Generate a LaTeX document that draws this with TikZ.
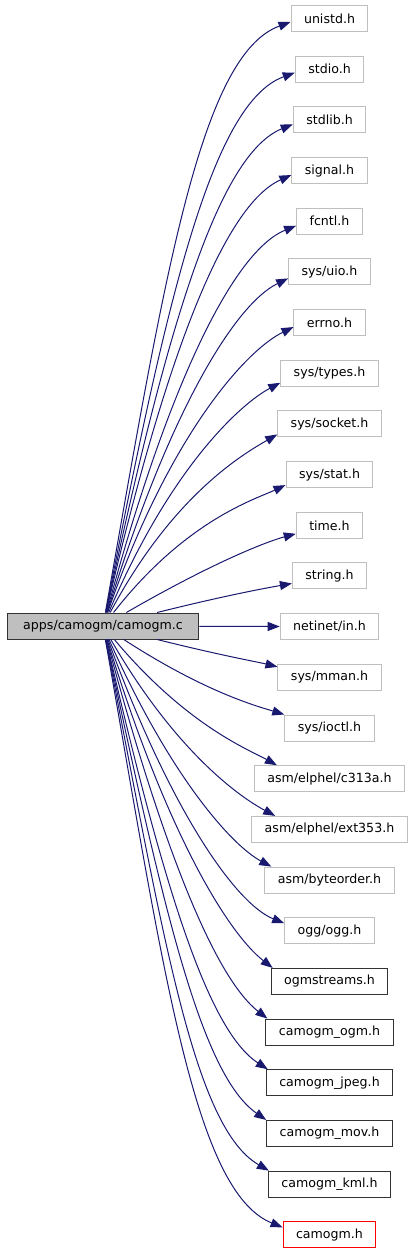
\documentclass[tikz,border=0pt]{standalone}
\usepackage{fontspec}
\setmainfont{DejaVu Sans}
\usepackage{xcolor}
\usepackage{tikz}
\usetikzlibrary{arrows.meta,positioning}
\definecolor{edgeblue}{HTML}{191970}
\definecolor{boxgray}{HTML}{BFBFBF}
\definecolor{boxred}{HTML}{FF0000}
\tikzstyle{incl} = [rectangle, draw=boxgray, fill=white, line width=1pt, minimum height=26pt, inner xsep=13pt, font=\fontsize{12.6}{15}\selectfont]
\tikzstyle{incldoc} = [incl, draw=black!80]
\tikzstyle{inclred} = [incl, draw=boxred]
\tikzstyle{srcfile} = [incl, draw=black!80, fill=boxgray, inner xsep=16pt]
\tikzstyle{dep} = [draw=edgeblue, line width=1pt, -{Triangle[length=12pt,width=9pt]}, out looseness=1.4, in looseness=0.4]

\begin{document}
\begin{tikzpicture}[x=1pt, y=1pt]
    \useasboundingbox (0,0) rectangle (416,-1253);
    \node[srcfile] (main) at (103,-626) {apps/camogm/camogm.c};
    \foreach \n/\l/\s [count=\i from 0] in {
        unistd/{unistd.h}/incl, stdio/{stdio.h}/incl, stdlib/{stdlib.h}/incl,
        signal/{signal.h}/incl, fcntl/{fcntl.h}/incl, uio/{sys/uio.h}/incl,
        errno/{errno.h}/incl, types/{sys/types.h}/incl, socket/{sys/socket.h}/incl,
        stat/{sys/stat.h}/incl, time/{time.h}/incl, string/{string.h}/incl,
        netinet/{netinet/in.h}/incl, mman/{sys/mman.h}/incl, ioctl/{sys/ioctl.h}/incl,
        c313a/{asm/elphel/c313a.h}/incl, ext353/{asm/elphel/ext353.h}/incl,
        byteorder/{asm/byteorder.h}/incl, ogg/{ogg/ogg.h}/incl,
        ogmstreams/{ogmstreams.h}/incldoc, ogm/{camogm\_ogm.h}/incldoc,
        jpeg/{camogm\_jpeg.h}/incldoc, mov/{camogm\_mov.h}/incldoc,
        kml/{camogm\_kml.h}/incldoc} {
        \node[\s] (\n) at (329.5,{-18.5-50.68*\i}) {\l};
    }
    \node[inclred] (camogmh) at (329.5,{-18.5-50.68*24}) {camogm.h};
    % headers above the source file
    \foreach \t/\o/\a/\p in {unistd/80/20/{0,10}, stdio/79/20/{0,10}, stdlib/78/22/{0,9},
        signal/77/24/{0,9}, fcntl/75/22/{0,9}, uio/73/26/{0,7}, errno/71/26/{0,9},
        types/67/28/{0,4}, socket/62/30/{0,3}, stat/52/25/{0,3}, time/30/15/{0,5},
        string/14/10/{0,6}} {
        \pgfmathsetmacro{\ia}{180+\a}
        \draw[dep] (main) to[out=\o, in=\ia] ([shift={(\p)}]\t.south west);
    }
    \draw[dep] (main) -- (netinet);
    % headers below
    \foreach \t/\o/\a/\p in {mman/-14/14/{0,-3}, ioctl/-33/17/{0,0}, c313a/-50/29/{23,0},
        ext353/-60/28/{24,0}, byteorder/-66/28/{7,0}, ogg/-70/22/{0,-6},
        ogmstreams/-73/38/{2,0}, ogm/-75/38/{2,0}, jpeg/-77/33/{2,0},
        mov/-78/35/{0,0}, kml/-79/30/{1,0}, camogmh/-80/22/{0,-6}} {
        \pgfmathsetmacro{\ia}{180-\a}
        \draw[dep] (main) to[out=\o, in=\ia] ([shift={(\p)}]\t.north west);
    }
\end{tikzpicture}
\end{document}
